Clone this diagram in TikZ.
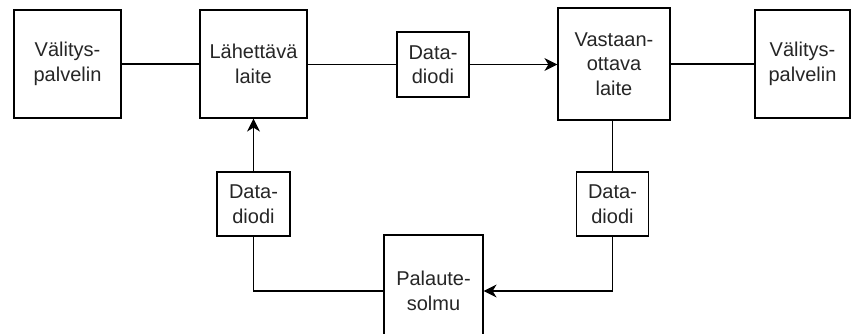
\documentclass[tikz,border=0pt]{standalone}
\usepackage{fontspec}
\setmainfont{Liberation Sans}
\usetikzlibrary{arrows.meta}
\tikzset{
  blk/.style={draw=black, line width=1.2pt, fill=white, align=center, inner sep=0pt,
    font=\fontsize{20}{24.5}\selectfont, text=black!85},
  link/.style={draw=black, line width=1.2pt},
  flow/.style={link, -{Stealth[length=13pt,width=13pt,inset=4pt]}}
}
\begin{document}
\begin{tikzpicture}[x=1pt,y=-1pt]
  \useasboundingbox (0,0) rectangle (852,334);
  \clip (0,0) rectangle (852,334);
  % upper row
  \node[blk, minimum width=107pt, minimum height=108pt] (relayA) at (67.5,64) {Välitys-\\palvelin};
  \node[blk, minimum width=107pt, minimum height=108pt] (sender) at (253.5,64) {Lähettävä\\laite};
  \node[blk, minimum width=72pt, minimum height=65pt] (diodeTop) at (433,64.5) {Data-\\diodi};
  \node[blk, minimum width=112pt, minimum height=112pt] (receiver) at (614,64) {Vastaan-\\ottava\\laite};
  \node[blk, minimum width=95pt, minimum height=108pt] (relayB) at (802.5,64) {Välitys-\\palvelin};
  % feedback path
  \node[blk, minimum width=73pt, minimum height=64pt] (diodeLeft) at (253.5,204) {Data-\\diodi};
  \node[blk, minimum width=72pt, minimum height=64pt] (diodeRight) at (612.5,204) {Data-\\diodi};
  \node[blk, minimum width=99pt, minimum height=112pt] (feedback) at (433.5,291) {Palaute-\\solmu};
  % connectors
  \draw[link] (relayA.east) -- (sender.west);
  \draw[link] (sender.east |- diodeTop.west) -- (diodeTop.west);
  \draw[flow] (diodeTop.east) -- (receiver.west |- diodeTop.east);
  \draw[link] (receiver.east) -- (relayB.west);
  \draw[link] (receiver.south -| diodeRight.north) -- (diodeRight.north);
  \draw[flow] (diodeRight.south) |- (feedback.east);
  \draw[link] (feedback.west) -| (diodeLeft.south);
  \draw[flow] (diodeLeft.north) -- (sender.south);
\end{tikzpicture}
\end{document}
